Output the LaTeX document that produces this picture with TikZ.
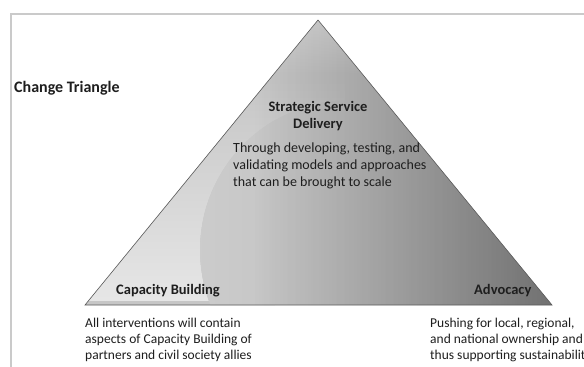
\documentclass[tikz,border=0pt]{standalone}
\usepackage{fontspec}
\setmainfont{Carlito}
\usetikzlibrary{fadings}
\definecolor{basegray}{HTML}{C6C6C6}
\definecolor{lightgray2}{HTML}{E6E6E6}
\definecolor{framegray}{HTML}{CACACA}
\definecolor{edgegray}{HTML}{5A5A5A}
\definecolor{txt}{HTML}{1E1E1E}
\tikzfading[name=darkright, left color=transparent!100, right color=transparent!0]
\tikzset{
  titlefont/.style={font=\fontsize{16}{18}\selectfont\bfseries, text=txt, inner sep=0pt},
  headfont/.style={font=\fontsize{14.5}{17}\selectfont\bfseries, text=txt, inner sep=0pt},
  bodyfont/.style={font=\fontsize{14}{17}\selectfont, text=txt, inner sep=0pt, align=left},
  bodyfontb/.style={font=\fontsize{13.5}{16}\selectfont, text=txt, inner sep=0pt, align=left},
}
\begin{document}
\begin{tikzpicture}[x=1pt,y=-1pt]
\useasboundingbox (0,0) rectangle (584,367);
\fill[white] (0,0) rectangle (584,367);
% frame
\draw[framegray, line width=2pt] (11,400) -- (11,14) -- (600,14);
% triangle corners
\coordinate (A) at (318,20);
\coordinate (B) at (85,305);
\coordinate (C) at (552,305);
\begin{scope}
  \clip (A) -- (B) -- (C) -- cycle;
  \fill[basegray] (0,0) rectangle (600,320);
  \begin{scope}[even odd rule]
    \clip (0,0) rectangle (600,400) (350,250) circle[radius=150];
    \shade[top color=basegray, bottom color=lightgray2] (60,80) rectangle (345,300);
  \end{scope}
  % darker rim inside circle on the left
  \begin{scope}
    \clip (350,250) circle[radius=150];
    \shade[left color=black!20, right color=basegray] (195,100) rectangle (275,320);
  \end{scope}
  % darkening towards the right
  \fill[black, fill opacity=0.6, path fading=darkright] (255,0) rectangle (670,320);
  % slight highlight at the apex
  \fill[white, fill opacity=0.25, path fading=south] (250,15) rectangle (390,75);
\end{scope}
\draw[edgegray, line width=0.6pt, line join=miter] (A) -- (B) -- (C) -- cycle;
% texts
\node[titlefont, anchor=base west] (title) at (14,92) {Change Triangle};
\node[headfont, anchor=base, align=center] (ssd) at (318,128) {Strategic Service\\Delivery};
\node[bodyfont, anchor=north west] (ssdtxt) at (233,142.5) {Through developing, testing, and\\validating models and approaches\\that can be brought to scale};
\node[headfont, anchor=base west] (cb) at (116,294) {Capacity Building};
\node[headfont, anchor=base west] (adv) at (474,294) {Advocacy};
\node[bodyfontb, anchor=north west] (cbtxt) at (85,318) {All interventions will contain\\aspects of Capacity Building of\\partners and civil society allies};
\node[bodyfontb, anchor=north west] (advtxt) at (430,318) {Pushing for local, regional,\\and national ownership and\\thus supporting sustainability};
\end{tikzpicture}
\end{document}
